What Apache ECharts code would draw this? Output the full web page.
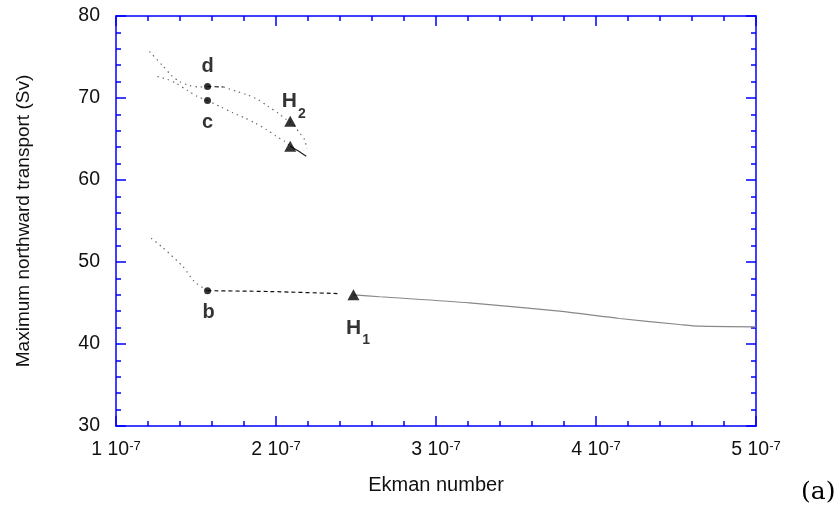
<!DOCTYPE html>
<html>
<head>
<meta charset="utf-8">
<script src="https://cdn.jsdelivr.net/npm/echarts@6/dist/echarts.min.js"></script>
<style>
html,body{margin:0;padding:0;background:#fff;}
#chart{width:840px;height:506px;}
</style>
</head>
<body>
<div id="chart"></div>
<script>
// x values are Ekman numbers in units of 10^-7
const xTicks = [1, 2, 3, 4, 5];
const xTickLabels = ['1 10', '2 10', '3 10', '4 10', '5 10'];
const xTickExp = '-7';
const yTicks = [30, 40, 50, 60, 70, 80];

// lower branch
const bLeftE = [1.22, 1.29, 1.42, 1.49, 1.572];
const bLeftV = [52.9, 51.8, 49.4, 47.6, 46.5];
const bDashE = [1.572, 1.96, 2.384];
const bDashV = [46.5, 46.4, 46.15];
const h1E = [2.484, 2.647, 3.209, 3.772, 4.147, 4.522, 4.647, 5.0];
const h1V = [46.0, 45.76, 45.02, 44.0, 43.11, 42.38, 42.17, 42.1];

// upper branches
const dLeftE = [1.209, 1.291, 1.347, 1.397, 1.459, 1.522, 1.572];
const dLeftV = [75.67, 73.96, 72.74, 72.01, 71.52, 71.34, 71.4];
const cLeftE = [1.259, 1.322, 1.378, 1.447, 1.509, 1.572];
const cLeftV = [72.62, 72.26, 71.77, 70.91, 70.18, 69.7];
const dDashE = [1.572, 1.672];
const dDashV = [71.4, 71.34];
const dUpperE = [1.672, 1.751, 1.814, 1.886, 1.949, 2.011, 2.064, 2.089, 2.116, 2.147, 2.178, 2.193];
const dUpperV = [71.34, 70.83, 70.43, 69.82, 69.0, 68.2, 67.38, 67.1, 66.56, 65.76, 64.94, 63.8];
const cLowerE = [1.572, 1.658, 1.730, 1.803, 1.866, 1.939, 2.001, 2.053, 2.089];
const cLowerV = [69.7, 68.88, 68.2, 67.59, 66.98, 66.16, 65.34, 64.73, 64.12];
const h2SolidE = [2.089, 2.14, 2.189];
const h2SolidV = [64.12, 63.54, 62.9];

// marked points
const dotNames = ['b', 'c', 'd'];
const dotE = [1.572, 1.572, 1.572];
const dotV = [46.5, 69.7, 71.4];
const triNames = ['H1', 'H2', 'H2low'];
const triE = [2.484, 2.089, 2.089];
const triV = [46.0, 67.17, 64.12];

const zip = (a, b) => a.map((v, i) => [v, b[i]]);
const FONT = 'Liberation Sans, Arial, sans-serif';
const BLUE = '#0000ff';

function lineSeries(E, V, style) {
  return {
    type: 'line', data: zip(E, V), showSymbol: false, smooth: 0.25,
    silent: true, animation: false, z: 2,
    lineStyle: style
  };
}
const dotted = {color: '#666', width: 1.2, type: [1.4, 4]};
const dashed = {color: '#111', width: 1.2, type: [4, 3]};

const dotLabelOffsets = {b: [1, 22], c: [0, 22], d: [0, -20]};
const dotData = dotNames.map((n, i) => ({
  value: [dotE[i], dotV[i]],
  label: {show: true, formatter: n, offset: dotLabelOffsets[n]}
}));
const triData = triNames.map((n, i) => {
  const item = {value: [triE[i], triV[i]]};
  if (n === 'H1') item.label = {show: true, formatter: '{h|H}{s|1}', offset: [4.6, 33]};
  if (n === 'H2') item.label = {show: true, formatter: '{h|H}{s|2}', offset: [3.6, -20]};
  return item;
});
const richLabel = {
  position: 'inside', color: '#000', fontFamily: FONT, fontWeight: 'bold', fontSize: 20,
  rich: {
    h: {fontSize: 21, fontWeight: 'bold', lineHeight: 21, verticalAlign: 'top', color: '#000', fontFamily: FONT},
    s: {fontSize: 14, fontWeight: 'bold', lineHeight: 14, verticalAlign: 'top', padding: [16, 0, 0, 1], color: '#000', fontFamily: FONT}
  }
};

const axisCommon = {
  type: 'value',
  axisLine: {show: true, onZero: false, lineStyle: {color: BLUE, width: 1.5}},
  axisTick: {show: true, inside: true, length: 10, lineStyle: {color: BLUE, width: 1.5}},
  minorTick: {show: true, splitNumber: 5, length: 5, lineStyle: {color: BLUE, width: 1.5}},
  splitLine: {show: false},
  minorSplitLine: {show: false}
};

const option = {
  animation: false,
  backgroundColor: '#fff',
  grid: {left: 116, top: 16, width: 640, height: 410, containLabel: false},
  xAxis: [
    Object.assign({}, axisCommon, {
      position: 'bottom', min: xTicks[0], max: xTicks[xTicks.length - 1], interval: 1,
      name: 'Ekman number', nameLocation: 'middle', nameGap: 49,
      nameTextStyle: {fontFamily: FONT, fontSize: 20, color: '#111'},
      axisLabel: {
        margin: 14, color: '#111', fontFamily: FONT, fontSize: 19.5,
        formatter: (v) => {
          const i = xTicks.indexOf(v);
          return i < 0 ? '' : '{a|' + xTickLabels[i] + '}{s|' + xTickExp + '}';
        },
        rich: {
          a: {fontSize: 19.5, fontFamily: FONT, color: '#111', lineHeight: 20},
          s: {fontSize: 13, fontFamily: FONT, color: '#111', verticalAlign: 'top', lineHeight: 13}
        }
      }
    }),
    Object.assign({}, axisCommon, {
      position: 'top', min: xTicks[0], max: xTicks[xTicks.length - 1], interval: 1,
      axisLabel: {show: false}
    })
  ],
  yAxis: [
    Object.assign({}, axisCommon, {
      position: 'left', min: yTicks[0], max: yTicks[yTicks.length - 1], interval: 10,
      name: 'Maximum northward transport (Sv)', nameLocation: 'middle', nameGap: 83,
      nameTextStyle: {fontFamily: FONT, fontSize: 19, color: '#111'},
      axisLabel: {margin: 16, color: '#111', fontFamily: FONT, fontSize: 19.5}
    }),
    Object.assign({}, axisCommon, {
      position: 'right', min: yTicks[0], max: yTicks[yTicks.length - 1], interval: 10,
      axisLabel: {show: false}
    })
  ],
  graphic: [{
    type: 'text', left: 801, top: 480,
    style: {text: '(a)', fontFamily: 'DejaVu Serif, serif', fontSize: 25, fill: '#000'}
  }],
  series: [
    lineSeries(bLeftE, bLeftV, dotted),
    lineSeries(bDashE, bDashV, dashed),
    lineSeries(h1E, h1V, {color: '#888', width: 1.2, type: 'solid'}),
    lineSeries(dLeftE, dLeftV, dotted),
    lineSeries(cLeftE, cLeftV, dotted),
    lineSeries(dDashE, dDashV, dashed),
    lineSeries(dUpperE, dUpperV, dotted),
    lineSeries(cLowerE, cLowerV, dotted),
    lineSeries(h2SolidE, h2SolidV, {color: '#222', width: 1.2, type: 'solid'}),
    {
      type: 'scatter', symbol: 'circle', symbolSize: 7, silent: true, z: 5,
      itemStyle: {color: '#000'},
      label: {position: 'inside', color: '#000', fontFamily: FONT, fontWeight: 'bold', fontSize: 20},
      data: dotData
    },
    {
      type: 'scatter', symbol: 'triangle', symbolSize: [12, 11], silent: true, z: 5,
      itemStyle: {color: '#000'},
      label: richLabel,
      data: triData
    }
  ]
};

const chart = echarts.init(document.getElementById('chart'), null, {renderer: 'canvas'});
chart.setOption(option);
</script>
</body>
</html>
